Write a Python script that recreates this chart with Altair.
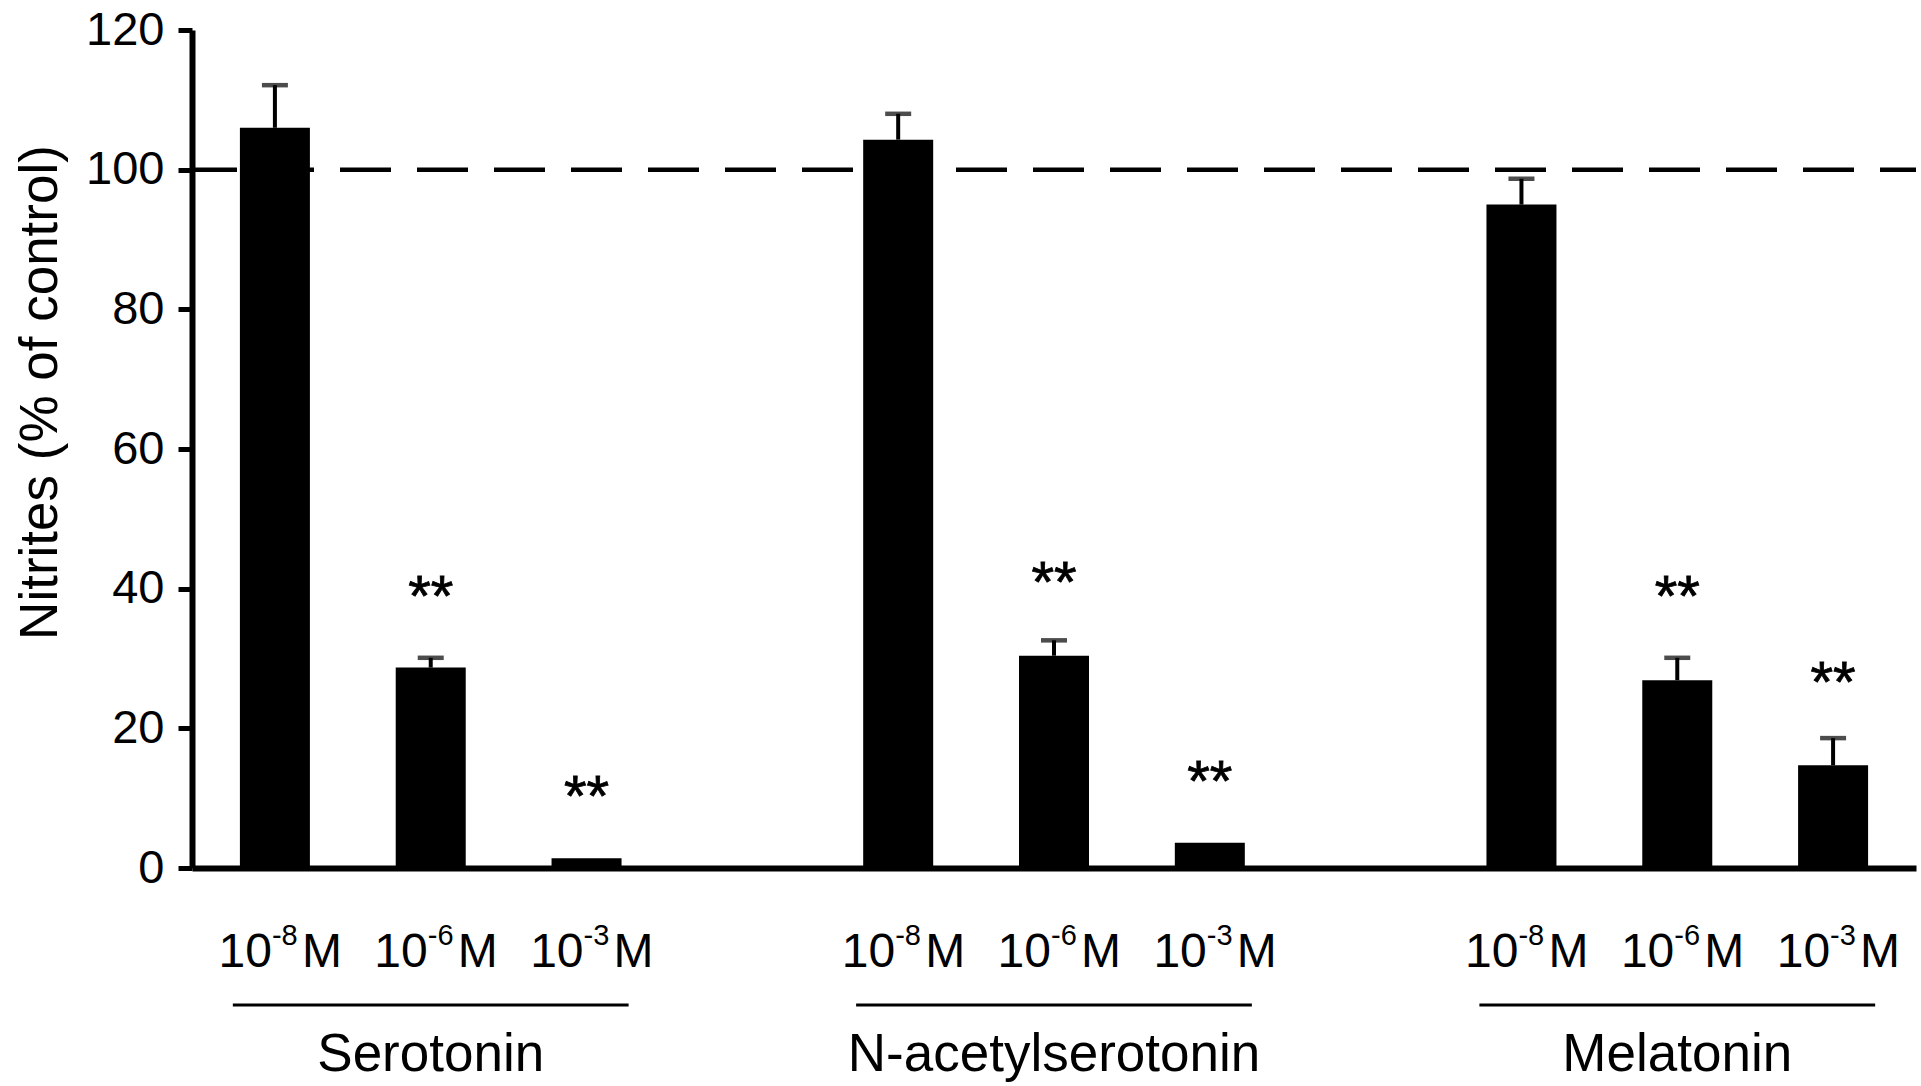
import altair as alt
import pandas as pd

# ---------------- data ----------------
groups = ["Serotonin", "N-acetylserotonin", "Melatonin"]
exponents = ["-8", "-6", "-3"]
values = [106.0, 28.7, 1.4, 104.3, 30.4, 3.6, 95.0, 26.9, 14.7]
sems = [6.1, 1.4, 0.0, 3.7, 2.2, 0.0, 3.7, 3.2, 3.9]
signif = ["", "**", "**", "", "**", "**", "", "**", "**"]
signif_level = [None, 40.9, 12.3, None, 43.0, 14.4, None, 40.9, 28.7]
y_ticks = [0, 20, 40, 60, 80, 100, 120]
control_level = 100

rows = []
for gi, g in enumerate(groups):
    for ci, e in enumerate(exponents):
        k = gi * 3 + ci
        rows.append(dict(pos=gi * 4 + ci, group=g, exp=e, value=values[k],
                         sem=sems[k], upper=values[k] + sems[k],
                         sig=signif[k], sig_y=signif_level[k]))
df = pd.DataFrame(rows)
err_df = df[df["sem"] > 0]
sig_df = df[df["sig"] != ""]
gdf = pd.DataFrame(dict(group=groups,
                        mid=[gi * 4 + 1 for gi in range(len(groups))],
                        start=[gi * 4 - 0.27 for gi in range(len(groups))],
                        end=[gi * 4 + 2.27 for gi in range(len(groups))]))

FONT = "Liberation Sans"
W, H = 1724, 838

xscale = alt.Scale(domain=[-0.5, 10.5], nice=False, zero=False)
yscale = alt.Scale(domain=[0, 120], nice=False)
x_axis = alt.Axis(title=None, labels=False, ticks=False, domain=True,
                  domainColor="black", domainWidth=6, grid=False)
y_axis = alt.Axis(title="Nitrites (% of control)", values=y_ticks, grid=False,
                  domainColor="black", domainWidth=6, tickColor="black",
                  tickWidth=5, tickSize=14, labelFontSize=47, labelColor="black",
                  labelFont=FONT, labelPadding=14, titleFontSize=53,
                  titleFont=FONT, titleColor="black", titleFontWeight="normal",
                  titleX=-152, titleY=362, titleBaseline="middle", titleAngle=-90)


def X(field):
    return alt.X(field, type="quantitative", scale=xscale, axis=x_axis)


def Y(field):
    return alt.Y(field, type="quantitative", scale=yscale, axis=y_axis)


base = alt.Chart(df)

dashed = alt.Chart(pd.DataFrame({"level": [control_level]})).mark_rule(
    color="black", strokeWidth=4.5, strokeDash=[51, 26], strokeDashOffset=15
).encode(y=Y("level"))

bars = base.mark_bar(color="black", size=70, orient="vertical").encode(
    x=X("pos"), y=Y("value"))

stems = alt.Chart(err_df).mark_rule(color="black", strokeWidth=4).encode(
    x=X("pos"), y=Y("value"), y2="upper")

caps = alt.Chart(err_df).mark_tick(color="black", orient="horizontal",
                                   size=26, thickness=4.5).encode(
    x=X("pos"), y=Y("upper"))

stars = alt.Chart(sig_df).mark_text(font=FONT, fontSize=58, color="black",
                                    baseline="alphabetic", dy=34,
                                    stroke="black", strokeWidth=0.8).encode(
    x=X("pos"), y=Y("sig_y"), text="sig")

lab10 = base.mark_text(font=FONT, fontSize=48, color="black", align="right",
                       baseline="alphabetic", dx=-3).encode(
    x=X("pos"), y=alt.value(937), text=alt.value("10"))
labsup = base.mark_text(font=FONT, fontSize=29, color="black", align="left",
                        baseline="alphabetic", dx=-3).encode(
    x=X("pos"), y=alt.value(915), text="exp")
labM = base.mark_text(font=FONT, fontSize=48, color="black", align="left",
                      baseline="alphabetic", dx=27).encode(
    x=X("pos"), y=alt.value(937), text=alt.value("M"))

underline = alt.Chart(gdf).mark_rule(color="black", strokeWidth=3).encode(
    x=X("start"), x2="end", y=alt.value(975))

glabel = alt.Chart(gdf).mark_text(font=FONT, fontSize=53, color="black",
                                  baseline="alphabetic").encode(
    x=X("mid"), y=alt.value(1041), text="group")

chart = alt.layer(dashed, bars, stems, caps, stars, lab10, labsup, labM,
                  underline, glabel).properties(
    width=W, height=H,
    padding={"left": 192, "top": 30, "right": 5, "bottom": 218},
    autosize=alt.AutoSizeParams(type="none"),
    background="white",
).configure_view(stroke=None)

chart.save("out.html", embed_options={"renderer": "svg", "actions": False})
